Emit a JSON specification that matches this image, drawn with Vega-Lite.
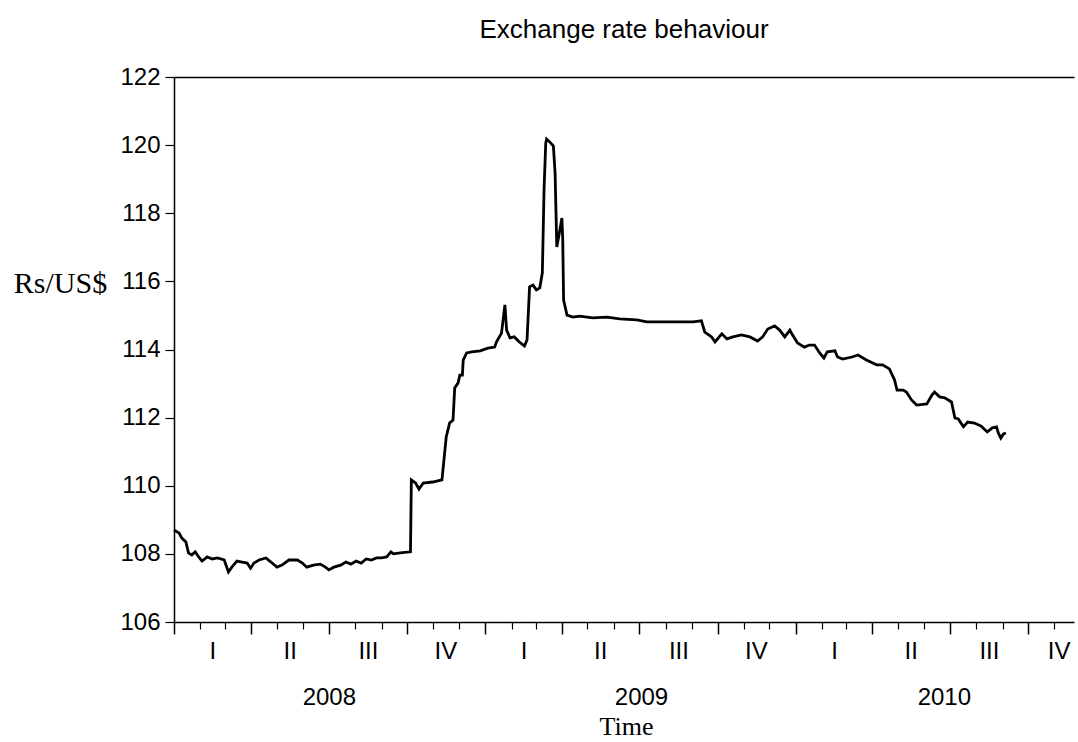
{
  "$schema": "https://vega.github.io/schema/vega-lite/v6.json",
  "width": 900,
  "height": 545,
  "autosize": "none",
  "padding": {"left": 174, "top": 77, "right": 4, "bottom": 120},
  "background": "white",
  "title": {"text": "Exchange rate behaviour", "fontSize": 26, "font": "Liberation Sans", "fontWeight": "normal", "color": "black", "anchor": "middle", "offset": 22},
  "config": {
    "view": {"stroke": null},
    "axis": {"grid": false, "domainColor": "black", "tickColor": "black", "labelColor": "black", "titleColor": "black", "labelFont": "Liberation Sans", "labelFontSize": 24, "labelFlush": false, "labelOverlap": false}
  },
  "datasets": {
    "fx": [
      {"date": "2008-01-01", "rate": 108.70}, {"date": "2008-01-07", "rate": 108.61}, {"date": "2008-01-10", "rate": 108.47},
      {"date": "2008-01-15", "rate": 108.35}, {"date": "2008-01-18", "rate": 108.03}, {"date": "2008-01-22", "rate": 107.97},
      {"date": "2008-01-26", "rate": 108.06}, {"date": "2008-01-30", "rate": 107.91}, {"date": "2008-02-03", "rate": 107.79},
      {"date": "2008-02-09", "rate": 107.91}, {"date": "2008-02-15", "rate": 107.85}, {"date": "2008-02-21", "rate": 107.88},
      {"date": "2008-02-29", "rate": 107.82}, {"date": "2008-03-03", "rate": 107.61}, {"date": "2008-03-05", "rate": 107.47},
      {"date": "2008-03-09", "rate": 107.61}, {"date": "2008-03-15", "rate": 107.79}, {"date": "2008-03-21", "rate": 107.76},
      {"date": "2008-03-27", "rate": 107.73}, {"date": "2008-03-31", "rate": 107.58}, {"date": "2008-04-04", "rate": 107.73},
      {"date": "2008-04-10", "rate": 107.82}, {"date": "2008-04-18", "rate": 107.88}, {"date": "2008-04-24", "rate": 107.76},
      {"date": "2008-05-01", "rate": 107.61}, {"date": "2008-05-07", "rate": 107.67}, {"date": "2008-05-15", "rate": 107.82},
      {"date": "2008-05-25", "rate": 107.82}, {"date": "2008-05-31", "rate": 107.73}, {"date": "2008-06-05", "rate": 107.61},
      {"date": "2008-06-13", "rate": 107.67}, {"date": "2008-06-21", "rate": 107.70}, {"date": "2008-06-27", "rate": 107.61},
      {"date": "2008-07-01", "rate": 107.53}, {"date": "2008-07-07", "rate": 107.61}, {"date": "2008-07-15", "rate": 107.67},
      {"date": "2008-07-21", "rate": 107.76}, {"date": "2008-07-27", "rate": 107.70}, {"date": "2008-08-02", "rate": 107.79},
      {"date": "2008-08-08", "rate": 107.73}, {"date": "2008-08-14", "rate": 107.85}, {"date": "2008-08-20", "rate": 107.82},
      {"date": "2008-08-26", "rate": 107.88}, {"date": "2008-09-01", "rate": 107.88}, {"date": "2008-09-07", "rate": 107.91},
      {"date": "2008-09-12", "rate": 108.06}, {"date": "2008-09-15", "rate": 108.00}, {"date": "2008-09-23", "rate": 108.03},
      {"date": "2008-10-05", "rate": 108.06}, {"date": "2008-10-06", "rate": 110.17}, {"date": "2008-10-11", "rate": 110.08},
      {"date": "2008-10-15", "rate": 109.90}, {"date": "2008-10-20", "rate": 110.08}, {"date": "2008-10-31", "rate": 110.11},
      {"date": "2008-11-11", "rate": 110.17}, {"date": "2008-11-13", "rate": 110.67}, {"date": "2008-11-16", "rate": 111.43},
      {"date": "2008-11-20", "rate": 111.84}, {"date": "2008-11-24", "rate": 111.93}, {"date": "2008-11-26", "rate": 112.87},
      {"date": "2008-11-30", "rate": 113.02}, {"date": "2008-12-02", "rate": 113.25}, {"date": "2008-12-05", "rate": 113.25},
      {"date": "2008-12-06", "rate": 113.69}, {"date": "2008-12-10", "rate": 113.90}, {"date": "2008-12-16", "rate": 113.93},
      {"date": "2008-12-26", "rate": 113.96}, {"date": "2009-01-04", "rate": 114.04}, {"date": "2009-01-12", "rate": 114.07},
      {"date": "2009-01-14", "rate": 114.22}, {"date": "2009-01-20", "rate": 114.48}, {"date": "2009-01-24", "rate": 115.31},
      {"date": "2009-01-26", "rate": 114.57}, {"date": "2009-01-30", "rate": 114.34}, {"date": "2009-02-04", "rate": 114.37},
      {"date": "2009-02-10", "rate": 114.22}, {"date": "2009-02-16", "rate": 114.10}, {"date": "2009-02-19", "rate": 114.28},
      {"date": "2009-02-22", "rate": 115.84}, {"date": "2009-02-26", "rate": 115.89}, {"date": "2009-03-02", "rate": 115.75},
      {"date": "2009-03-06", "rate": 115.81}, {"date": "2009-03-09", "rate": 116.25}, {"date": "2009-03-11", "rate": 118.68},
      {"date": "2009-03-13", "rate": 120.06}, {"date": "2009-03-14", "rate": 120.18}, {"date": "2009-03-19", "rate": 120.06},
      {"date": "2009-03-22", "rate": 119.97}, {"date": "2009-03-24", "rate": 119.18}, {"date": "2009-03-26", "rate": 117.01},
      {"date": "2009-03-29", "rate": 117.42}, {"date": "2009-04-01", "rate": 117.86}, {"date": "2009-04-02", "rate": 117.22},
      {"date": "2009-04-03", "rate": 115.45}, {"date": "2009-04-07", "rate": 115.01}, {"date": "2009-04-14", "rate": 114.95},
      {"date": "2009-04-22", "rate": 114.98}, {"date": "2009-05-07", "rate": 114.93}, {"date": "2009-05-24", "rate": 114.95},
      {"date": "2009-06-08", "rate": 114.90}, {"date": "2009-06-28", "rate": 114.87}, {"date": "2009-07-10", "rate": 114.81},
      {"date": "2009-07-25", "rate": 114.81}, {"date": "2009-08-14", "rate": 114.81}, {"date": "2009-09-02", "rate": 114.81},
      {"date": "2009-09-12", "rate": 114.84}, {"date": "2009-09-16", "rate": 114.51}, {"date": "2009-09-24", "rate": 114.37},
      {"date": "2009-09-28", "rate": 114.22}, {"date": "2009-10-06", "rate": 114.46}, {"date": "2009-10-12", "rate": 114.31},
      {"date": "2009-10-19", "rate": 114.37}, {"date": "2009-10-29", "rate": 114.43}, {"date": "2009-11-08", "rate": 114.37},
      {"date": "2009-11-17", "rate": 114.25}, {"date": "2009-11-23", "rate": 114.37}, {"date": "2009-11-29", "rate": 114.60},
      {"date": "2009-12-07", "rate": 114.69}, {"date": "2009-12-13", "rate": 114.57}, {"date": "2009-12-19", "rate": 114.37},
      {"date": "2009-12-25", "rate": 114.57}, {"date": "2009-12-28", "rate": 114.43}, {"date": "2010-01-03", "rate": 114.19},
      {"date": "2010-01-11", "rate": 114.07}, {"date": "2010-01-17", "rate": 114.13}, {"date": "2010-01-23", "rate": 114.13},
      {"date": "2010-01-29", "rate": 113.90}, {"date": "2010-02-03", "rate": 113.75}, {"date": "2010-02-07", "rate": 113.93},
      {"date": "2010-02-16", "rate": 113.96}, {"date": "2010-02-19", "rate": 113.78}, {"date": "2010-02-25", "rate": 113.72},
      {"date": "2010-03-08", "rate": 113.78}, {"date": "2010-03-15", "rate": 113.84}, {"date": "2010-03-25", "rate": 113.69},
      {"date": "2010-04-06", "rate": 113.55}, {"date": "2010-04-13", "rate": 113.55}, {"date": "2010-04-21", "rate": 113.43},
      {"date": "2010-04-27", "rate": 113.11}, {"date": "2010-04-30", "rate": 112.81}, {"date": "2010-05-07", "rate": 112.81},
      {"date": "2010-05-11", "rate": 112.75}, {"date": "2010-05-17", "rate": 112.52}, {"date": "2010-05-23", "rate": 112.37},
      {"date": "2010-06-04", "rate": 112.40}, {"date": "2010-06-10", "rate": 112.66}, {"date": "2010-06-13", "rate": 112.75},
      {"date": "2010-06-19", "rate": 112.61}, {"date": "2010-06-25", "rate": 112.58}, {"date": "2010-07-03", "rate": 112.46},
      {"date": "2010-07-07", "rate": 111.99}, {"date": "2010-07-11", "rate": 111.96}, {"date": "2010-07-17", "rate": 111.73},
      {"date": "2010-07-22", "rate": 111.87}, {"date": "2010-07-30", "rate": 111.84}, {"date": "2010-08-07", "rate": 111.75},
      {"date": "2010-08-14", "rate": 111.58}, {"date": "2010-08-20", "rate": 111.70}, {"date": "2010-08-25", "rate": 111.73},
      {"date": "2010-08-27", "rate": 111.55}, {"date": "2010-08-30", "rate": 111.40}, {"date": "2010-09-02", "rate": 111.52},
      {"date": "2010-09-05", "rate": 111.55}
    ]
  },
  "data": {"name": "fx"},
  "resolve": {"axis": {"x": "independent", "y": "independent"}},
  "layer": [
    {
      "mark": {"type": "line", "color": "black", "strokeWidth": 2.8},
      "encoding": {
        "x": {
          "field": "date", "type": "temporal",
          "scale": {"domain": [{"year": 2008, "month": 1, "date": 1}, {"year": 2010, "month": 11, "date": 24}], "nice": false},
          "axis": {
            "orient": "bottom",
            "values": [
              {"year": 2008, "month": 1, "date": 1}, {"year": 2008, "month": 4, "date": 1}, {"year": 2008, "month": 7, "date": 1}, {"year": 2008, "month": 10, "date": 1},
              {"year": 2009, "month": 1, "date": 1}, {"year": 2009, "month": 4, "date": 1}, {"year": 2009, "month": 7, "date": 1}, {"year": 2009, "month": 10, "date": 1},
              {"year": 2010, "month": 1, "date": 1}, {"year": 2010, "month": 4, "date": 1}, {"year": 2010, "month": 7, "date": 1}, {"year": 2010, "month": 10, "date": 1}
            ],
            "tickSize": 12, "tickWidth": 1.5, "labels": false, "domain": true, "domainWidth": 1.5, "title": null
          }
        },
        "y": {
          "field": "rate", "type": "quantitative",
          "scale": {"domain": [106, 122], "nice": false, "zero": false},
          "axis": {
            "orient": "left",
            "values": [106, 108, 110, 112, 114, 116, 118, 120, 122],
            "tickSize": 9, "tickWidth": 1.2, "labelPadding": 5, "domainWidth": 1.5,
            "title": "Rs/US$", "titleFont": "Liberation Serif", "titleFontSize": 30, "titleFontWeight": "normal",
            "titleAngle": 0, "titleAlign": "center", "titleBaseline": "middle", "titleX": -114, "titleY": 206
          }
        }
      }
    },
    {
      "mark": {"type": "line", "strokeOpacity": 0},
      "encoding": {
        "x": {
          "field": "date", "type": "temporal",
          "scale": {"domain": [{"year": 2008, "month": 1, "date": 1}, {"year": 2010, "month": 11, "date": 24}], "nice": false},
          "axis": {
            "orient": "bottom",
            "values": [
              {"year": 2008, "month": 2, "date": 1}, {"year": 2008, "month": 3, "date": 1}, {"year": 2008, "month": 5, "date": 1}, {"year": 2008, "month": 6, "date": 1},
              {"year": 2008, "month": 8, "date": 1}, {"year": 2008, "month": 9, "date": 1}, {"year": 2008, "month": 11, "date": 1}, {"year": 2008, "month": 12, "date": 1},
              {"year": 2009, "month": 2, "date": 1}, {"year": 2009, "month": 3, "date": 1}, {"year": 2009, "month": 5, "date": 1}, {"year": 2009, "month": 6, "date": 1},
              {"year": 2009, "month": 8, "date": 1}, {"year": 2009, "month": 9, "date": 1}, {"year": 2009, "month": 11, "date": 1}, {"year": 2009, "month": 12, "date": 1},
              {"year": 2010, "month": 2, "date": 1}, {"year": 2010, "month": 3, "date": 1}, {"year": 2010, "month": 5, "date": 1}, {"year": 2010, "month": 6, "date": 1},
              {"year": 2010, "month": 8, "date": 1}, {"year": 2010, "month": 9, "date": 1}, {"year": 2010, "month": 11, "date": 1}
            ],
            "tickSize": 7, "tickWidth": 1.2, "labels": false, "domain": false, "title": null
          }
        },
        "y": {"field": "rate", "type": "quantitative", "scale": {"domain": [106, 122], "nice": false, "zero": false}, "axis": null}
      }
    },
    {
      "mark": {"type": "line", "strokeOpacity": 0},
      "encoding": {
        "x": {
          "field": "date", "type": "temporal",
          "scale": {"domain": [{"year": 2008, "month": 1, "date": 1}, {"year": 2010, "month": 11, "date": 24}], "nice": false},
          "axis": {
            "orient": "bottom",
            "values": [
              {"year": 2008, "month": 2, "date": 15}, {"year": 2008, "month": 5, "date": 16}, {"year": 2008, "month": 8, "date": 16}, {"year": 2008, "month": 11, "date": 15},
              {"year": 2009, "month": 2, "date": 15}, {"year": 2009, "month": 5, "date": 16}, {"year": 2009, "month": 8, "date": 16}, {"year": 2009, "month": 11, "date": 15},
              {"year": 2010, "month": 2, "date": 15}, {"year": 2010, "month": 5, "date": 16}, {"year": 2010, "month": 8, "date": 16}, {"year": 2010, "month": 11, "date": 6}
            ],
            "ticks": false, "tickSize": 0, "domain": false, "labelPadding": 17, "title": null,
            "labelExpr": "month(datum.value) < 3 ? 'I' : month(datum.value) < 6 ? 'II' : month(datum.value) < 9 ? 'III' : 'IV'"
          }
        },
        "y": {"field": "rate", "type": "quantitative", "scale": {"domain": [106, 122], "nice": false, "zero": false}, "axis": null}
      }
    },
    {
      "mark": {"type": "line", "strokeOpacity": 0},
      "encoding": {
        "x": {
          "field": "date", "type": "temporal",
          "scale": {"domain": [{"year": 2008, "month": 1, "date": 1}, {"year": 2010, "month": 11, "date": 24}], "nice": false},
          "axis": {
            "orient": "bottom",
            "values": [{"year": 2008, "month": 7, "date": 1}, {"year": 2009, "month": 7, "date": 3}, {"year": 2010, "month": 6, "date": 24}],
            "ticks": false, "tickSize": 0, "domain": false, "labelPadding": 63,
            "labelExpr": "'' + year(datum.value)",
            "title": "Time", "titleFont": "Liberation Serif", "titleFontSize": 26, "titleFontWeight": "normal",
            "titleAlign": "center", "titleBaseline": "middle", "titleX": 452, "titleY": 104
          }
        },
        "y": {"field": "rate", "type": "quantitative", "scale": {"domain": [106, 122], "nice": false, "zero": false}, "axis": null}
      }
    },
    {
      "mark": {"type": "line", "strokeOpacity": 0},
      "encoding": {
        "x": {
          "field": "date", "type": "temporal",
          "scale": {"domain": [{"year": 2008, "month": 1, "date": 1}, {"year": 2010, "month": 11, "date": 24}], "nice": false},
          "axis": {"orient": "top", "ticks": false, "labels": false, "domain": true, "domainWidth": 1.5, "title": null}
        },
        "y": {"field": "rate", "type": "quantitative", "scale": {"domain": [106, 122], "nice": false, "zero": false}, "axis": null}
      }
    }
  ]
}
